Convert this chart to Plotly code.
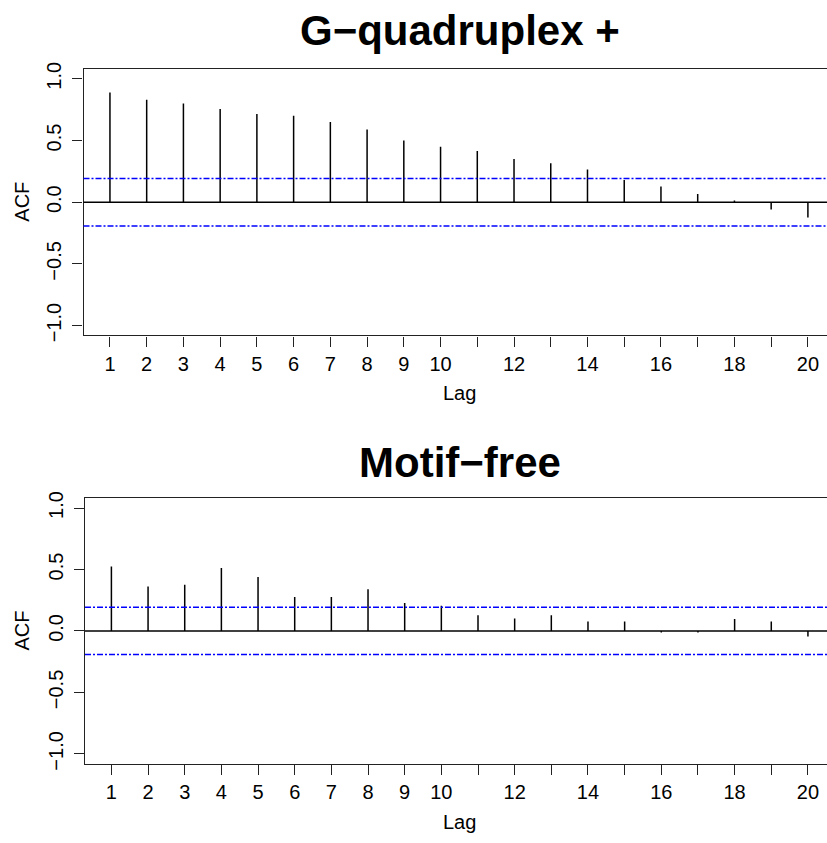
import plotly.graph_objects as go

# Autocorrelation estimates for lags 1..20
lags = list(range(1, 21))
acf_gq = [0.89, 0.83, 0.80, 0.755, 0.715, 0.70, 0.65, 0.59, 0.50, 0.45,
          0.415, 0.35, 0.315, 0.265, 0.18, 0.128, 0.067, 0.013, -0.059, -0.123]
acf_free = [0.524, 0.362, 0.375, 0.513, 0.439, 0.277, 0.277, 0.34, 0.228, 0.205,
            0.128, 0.101, 0.128, 0.077, 0.077, -0.012, -0.012, 0.098, 0.077, -0.045]
conf_limit = 0.192
panel_titles = ["G\u2212quadruplex +", "Motif\u2212free"]

x_ticks = lags
x_ticktext = [str(v) if (v <= 10 or v % 2 == 0) else "" for v in lags]
y_ticks = [-1.0, -0.5, 0.0, 0.5, 1.0]
y_ticktext = ["\u22121.0", "\u22120.5", "0.0", "0.5", "1.0"]

W, H = 827, 843
FONT = "Liberation Sans, Arial, sans-serif"

fig = go.Figure()

panels = [
    dict(vals=acf_gq, ydom=(1 - 334 / H, 1 - 63 / H), xl=83.5,
         title_y=24, lag_y=393, acf_y=198),
    dict(vals=acf_free, ydom=(1 - 769.5 / H, 1 - 499.5 / H), xl=85,
         title_y=463, lag_y=829, acf_y=634),
]

for i, p in enumerate(panels):
    s = "" if i == 0 else str(i + 1)
    xs, ys = [], []
    for lag, v in zip(lags, p["vals"]):
        xs += [lag, lag, None]
        ys += [0, v, None]
    fig.add_trace(go.Scatter(
        x=xs, y=ys, mode="lines", line=dict(color="black", width=1.5),
        hoverinfo="skip", showlegend=False,
        xaxis=f"x{s}", yaxis=f"y{s}"))

    axis_common = dict(showgrid=False, zeroline=False, showline=True,
                       linecolor="#222", linewidth=1.4, ticks="outside",
                       ticklen=10, tickwidth=1.4, tickcolor="#222",
                       tickfont=dict(family=FONT, size=20, color="black"))
    fig.layout[f"xaxis{s}"] = dict(
        axis_common, domain=[p["xl"] / W, 1], range=[0.28, 20.52],
        tickvals=x_ticks, ticktext=x_ticktext, mirror=True,
        anchor=f"y{s}")
    fig.layout[f"yaxis{s}"] = dict(
        axis_common, domain=list(p["ydom"]), range=[-1.08, 1.08],
        tickvals=y_ticks, ticktext=y_ticktext, tickangle=-90,
        ticklabelstandoff=3, anchor=f"x{s}")

    # zero line and significance bounds
    fig.add_shape(type="line", xref=f"x{s} domain", yref=f"y{s}",
                  x0=0, x1=1, y0=0, y1=0,
                  line=dict(color="black", width=1.4))
    for c in (conf_limit, -conf_limit):
        fig.add_shape(type="line", xref=f"x{s} domain", yref=f"y{s}",
                      x0=0, x1=1, y0=c, y1=c,
                      line=dict(color="#0000ff", width=1.5,
                                dash="6px,2px,2px,2px"))

    fig.add_annotation(text=f"<b>{panel_titles[i]}</b>", xref="paper",
                       yref="paper", x=460 / W, y=1 - p["title_y"] / H,
                       xanchor="center", yanchor="middle", showarrow=False,
                       font=dict(family=FONT, size=42, color="black"))
    fig.add_annotation(text="Lag", xref="paper", yref="paper",
                       x=460 / W, y=1 - p["lag_y"] / H,
                       xanchor="center", yanchor="middle", showarrow=False,
                       font=dict(family=FONT, size=20, color="black"))
    fig.add_annotation(text="ACF", xref="paper", yref="paper",
                       x=22 / W, y=1 - p["acf_y"] / H, textangle=-90,
                       xanchor="center", yanchor="middle", showarrow=False,
                       font=dict(family=FONT, size=20, color="black"))

fig.update_layout(width=W, height=H, margin=dict(l=0, r=0, t=0, b=0),
                  paper_bgcolor="white", plot_bgcolor="white")

fig.write_html("out.html")
